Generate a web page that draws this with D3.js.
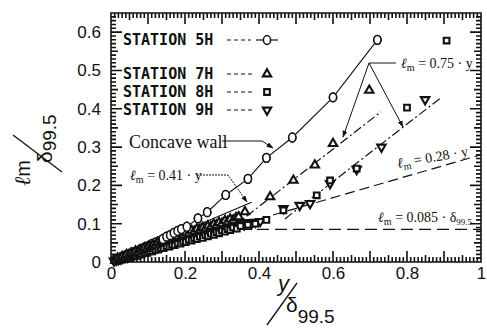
<!DOCTYPE html>
<html>
<head>
<meta charset="utf-8">
<script src="https://cdn.jsdelivr.net/npm/d3@7"></script>
<style>
  html, body { margin: 0; padding: 0; background: #fff; }
  svg { display: block; }
</style>
</head>
<body>
<svg id="chart" width="487" height="328"></svg>
<script>
// Mixing length lm/δ99.5 versus wall distance y/δ99.5
const station5H_x = [0.01,0.02,0.03,0.04,0.05,0.06,0.07,0.08,0.09,0.10,0.11,0.12,0.13,0.14,0.15,0.16,0.17,0.18,0.19,0.205,0.235,0.26,0.31,0.37,0.42,0.49,0.60,0.72];
const station5H_y = [0.006,0.010,0.014,0.018,0.022,0.026,0.029,0.034,0.038,0.042,0.047,0.051,0.055,0.060,0.066,0.070,0.076,0.081,0.086,0.092,0.114,0.130,0.175,0.217,0.272,0.325,0.430,0.580];

const station7H_x = [0.012,0.018,0.024,0.03,0.036,0.042,0.048,0.054,0.06,0.066,0.072,0.078,0.084,0.09,0.096,0.102,0.108,0.114,0.12,0.126,0.132,0.138,0.144,0.15,0.156,0.162,0.168,0.174,0.18,0.188,0.195,0.202,0.21,0.218,0.225,0.232,0.24,0.248,0.255,0.262,0.27,0.278,0.285,0.292,0.30,0.308,0.315,0.322,0.33,0.338,0.345,0.362,0.43,0.493,0.551,0.60,0.698];
const station7H_y = [0.004,0.010,0.009,0.014,0.013,0.019,0.017,0.023,0.022,0.028,0.026,0.031,0.031,0.037,0.035,0.041,0.040,0.045,0.044,0.050,0.049,0.054,0.053,0.060,0.057,0.063,0.062,0.067,0.066,0.073,0.071,0.077,0.075,0.082,0.080,0.086,0.084,0.090,0.088,0.094,0.092,0.099,0.096,0.103,0.101,0.108,0.105,0.112,0.109,0.116,0.118,0.131,0.170,0.213,0.253,0.309,0.448];

const station8H_x = [0.015,0.022,0.03,0.038,0.045,0.052,0.06,0.068,0.075,0.082,0.09,0.098,0.105,0.112,0.12,0.128,0.135,0.142,0.15,0.158,0.165,0.172,0.18,0.188,0.195,0.202,0.21,0.218,0.225,0.232,0.24,0.248,0.255,0.262,0.27,0.278,0.285,0.292,0.30,0.308,0.315,0.322,0.33,0.34,0.35,0.37,0.39,0.42,0.466,0.556,0.592,0.664,0.80,0.907];
const station8H_y = [0.003,0.004,0.007,0.008,0.011,0.012,0.015,0.016,0.019,0.020,0.024,0.024,0.028,0.028,0.032,0.032,0.036,0.036,0.041,0.040,0.045,0.044,0.049,0.048,0.053,0.052,0.058,0.056,0.062,0.060,0.066,0.063,0.070,0.067,0.074,0.071,0.078,0.075,0.082,0.079,0.086,0.083,0.090,0.087,0.094,0.097,0.100,0.110,0.135,0.174,0.213,0.244,0.403,0.578];

const station9H_x = [0.008,0.014,0.02,0.026,0.032,0.038,0.044,0.05,0.056,0.062,0.068,0.074,0.08,0.086,0.092,0.098,0.104,0.11,0.116,0.122,0.128,0.134,0.14,0.146,0.152,0.158,0.164,0.17,0.176,0.183,0.19,0.198,0.205,0.212,0.22,0.228,0.235,0.242,0.25,0.258,0.265,0.272,0.28,0.288,0.295,0.302,0.31,0.318,0.325,0.332,0.34,0.35,0.36,0.37,0.38,0.39,0.403,0.466,0.51,0.538,0.592,0.664,0.731,0.849];
const station9H_y = [0.003,0.005,0.006,0.008,0.010,0.012,0.013,0.016,0.017,0.019,0.021,0.024,0.025,0.027,0.028,0.031,0.032,0.035,0.036,0.039,0.040,0.042,0.043,0.046,0.047,0.050,0.051,0.054,0.055,0.058,0.059,0.062,0.063,0.066,0.067,0.070,0.071,0.074,0.075,0.078,0.078,0.082,0.082,0.086,0.085,0.090,0.088,0.094,0.091,0.097,0.094,0.100,0.097,0.103,0.100,0.104,0.106,0.140,0.148,0.153,0.205,0.242,0.300,0.424];

// Reference models: slope, origin offset and drawn extent in y/δ
const fit041 = { slope: 0.41, x0: 0, from: 0.17, to: 0.38 };
const fit075a = { slope: 0.75, x0: 0.207, from: 0.33, to: 0.73 };
const fit075b = { slope: 0.75, x0: 0.32, from: 0.47, to: 0.89 };
const fit028 = { slope: 0.28, x0: 0, from: 0.36, to: 1.0 };
const outerLevel = { value: 0.085, from: 0.2, to: 1.0 };

const xTickValues = [0, 0.2, 0.4, 0.6, 0.8, 1];
const xTickLabels = ["0", "0.2", "0.4", "0.6", "0.8", "1"];
const yTickValues = [0, 0.1, 0.2, 0.3, 0.4, 0.5, 0.6];
const yTickLabels = ["0", "0.1", "0.2", "0.3", "0.4", "0.5", "0.6"];

const legendNames = ["STATION 5H", "STATION 7H", "STATION 8H", "STATION 9H"];

const INK = "#111";
const SANS = "Liberation Sans, Arial, sans-serif";
const SERIF = "Liberation Serif, Times New Roman, serif";

const svg = d3.select("#chart");
const x = d3.scaleLinear().domain([0, 1]).range([111, 481]);
const y = d3.scaleLinear().domain([0, 0.65]).range([262, 13]);

const zip = (xs, ys) => xs.map((v, i) => [v, ys[i]]);
const d5 = zip(station5H_x, station5H_y);
const d7 = zip(station7H_x, station7H_y);
const d8 = zip(station8H_x, station8H_y);
const d9 = zip(station9H_x, station9H_y);

// Frame and its inward ticks as one path:
// minor every 0.01, mid every 0.05, major every 0.1
const tickLen = v => { const i = Math.round(v * 100); return i % 10 === 0 ? 11 : i % 5 === 0 ? 7 : 5; };
const X0 = x(0), X1 = x(1), Y0 = y(0), Y1 = y(0.65);
let frameD = `M${X0},${Y1}H${X1}V${Y0}H${X0}Z`;
d3.range(0, 101).forEach(i => {
  const v = i / 100, px = x(v), L = tickLen(v);
  frameD += `M${px},${Y0}V${Y0 - L}M${px},${Y1}V${Y1 + L}`;
});
d3.range(0, 66).forEach(i => {
  const v = i / 100, py = y(v), L = tickLen(v);
  frameD += `M${X0},${py}H${X0 + L}M${X1},${py}H${X1 - L}`;
});
svg.append("path").attr("d", frameD)
  .attr("fill", "none").attr("stroke", INK).attr("stroke-width", 1.6);

// Tick labels
const xAxis = svg.append("g").attr("transform", `translate(0,${Y0})`)
  .call(d3.axisBottom(x).tickValues(xTickValues).tickSize(0).tickPadding(5)
    .tickFormat((d, i) => xTickLabels[i]));
const yAxis = svg.append("g").attr("transform", `translate(${X0},0)`)
  .call(d3.axisLeft(y).tickValues(yTickValues).tickSize(0).tickPadding(10)
    .tickFormat((d, i) => yTickLabels[i]));
[xAxis, yAxis].forEach(a => {
  a.select(".domain").remove();
  a.attr("font-family", SANS).attr("font-size", 17);
  a.selectAll("text").attr("fill", INK);
});

// Reference lines
const seg = f => [[f.from, f.slope * (f.from - f.x0)], [f.to, f.slope * (f.to - f.x0)]];
const line = d3.line().x(d => x(d[0])).y(d => y(d[1]));
const lines = svg.append("g").attr("fill", "none").attr("stroke", INK);
lines.append("path").attr("d", line(seg(fit041))).attr("stroke-width", 1.2);
lines.append("path").attr("d", line(seg(fit075a))).attr("stroke-width", 1.2).attr("stroke-dasharray", "9,3,2,3");
lines.append("path").attr("d", line(seg(fit075b))).attr("stroke-width", 1.2).attr("stroke-dasharray", "9,3,2,3");
lines.append("path").attr("d", line(seg(fit028))).attr("stroke-width", 1.2).attr("stroke-dasharray", "10,5");
lines.append("path").attr("d", line([[outerLevel.from, outerLevel.value], [outerLevel.to, outerLevel.value]]))
  .attr("stroke-width", 1.2).attr("stroke-dasharray", "12,6");

// Station 5H profile line
lines.append("path").attr("d", line(d5)).attr("stroke-width", 1.1);

// Markers
const symTri = d3.symbol().type(d3.symbolTriangle).size(30);
const symSq = d3.symbol().type(d3.symbolSquare).size(32);
const markerStyle = g => g.attr("fill", "#fff").attr("stroke", INK).attr("stroke-width", 2.1);

function drawCircle(g, px, py) {
  g.append("ellipse").attr("cx", px).attr("cy", py).attr("rx", 3.6).attr("ry", 4.4)
    .attr("fill", "#fff").attr("stroke", INK).attr("stroke-width", 1.5);
}
function drawTri(g, px, py, down) {
  g.append("path").attr("d", symTri())
    .attr("transform", `translate(${px},${py})${down ? " rotate(180)" : ""}`);
}
function drawSq(g, px, py) {
  g.append("path").attr("d", symSq()).attr("transform", `translate(${px},${py})`);
}

// Near-wall band: circles underneath, the other stations over them
const gc = svg.append("g");
d5.forEach(d => drawCircle(gc, x(d[0]), y(d[1])));
const gm = svg.append("g").call(markerStyle);
d9.forEach(d => drawTri(gm, x(d[0]), y(d[1]), true));
d8.forEach(d => drawSq(gm, x(d[0]), y(d[1])));
d7.forEach(d => drawTri(gm, x(d[0]), y(d[1]), false));
// Outer circles stay on top where they stand clear of the band
const gc2 = svg.append("g");
d5.filter(d => d[0] >= 0.14).forEach(d => drawCircle(gc2, x(d[0]), y(d[1])));

// Legend
const legY = [40, 74, 92, 110];
const lg = svg.append("g");
legendNames.forEach((name, i) => {
  lg.append("text").attr("x", 123).attr("y", legY[i]).attr("dy", "0.36em")
    .attr("font-family", "DejaVu Sans Mono, monospace").attr("font-size", 15)
    .attr("font-weight", "bold").attr("fill", INK).text(name);
  lg.append("line").attr("x1", 227).attr("x2", i === 0 ? 251 : 253)
    .attr("y1", legY[i]).attr("y2", legY[i])
    .attr("stroke", INK).attr("stroke-width", 1.2).attr("stroke-dasharray", "4,3");
});
lg.append("line").attr("x1", 256).attr("x2", 278).attr("y1", legY[0]).attr("y2", legY[0])
  .attr("stroke", INK).attr("stroke-width", 1.2);
drawCircle(lg, 267, legY[0]);
const lgm = lg.append("g").call(markerStyle);
drawTri(lgm, 267, legY[1], false);
drawSq(lgm, 267, legY[2]);
drawTri(lgm, 267, legY[3], true);

// Annotation helpers
const defs = svg.append("defs");
defs.append("marker").attr("id", "arrow").attr("viewBox", "0 0 10 10")
  .attr("refX", 9).attr("refY", 5).attr("markerWidth", 7).attr("markerHeight", 7)
  .attr("orient", "auto")
  .append("path").attr("d", "M0,1.5 L10,5 L0,8.5 Z").attr("fill", INK);

function lmLabel(g, tx, ty, rest, sub) {
  const t = g.append("text").attr("font-family", SERIF).attr("font-size", 14).attr("fill", INK)
    .attr("x", tx).attr("y", ty);
  t.append("tspan").attr("font-style", "italic").text("ℓ");
  t.append("tspan").attr("font-size", 10).attr("dy", 3).text("m");
  t.append("tspan").attr("dy", -3).text(rest);
  if (sub) t.append("tspan").attr("font-size", 9).attr("dy", 3).text(sub);
  return t;
}

const ann = svg.append("g");
// Concave wall
ann.append("text").attr("x", 129).attr("y", 148).attr("font-family", SERIF)
  .attr("font-size", 18).attr("fill", INK).text("Concave wall");
ann.append("path").attr("d", "M222,141 L262,141 L273,148")
  .attr("fill", "none").attr("stroke", INK).attr("stroke-width", 1).attr("marker-end", "url(#arrow)");

// lm = 0.41 y
lmLabel(ann, 130, 180, " = 0.41 · y");
ann.append("path").attr("d", "M197,175 L228,175 L247,202")
  .attr("fill", "none").attr("stroke", INK).attr("stroke-width", 1)
  .attr("stroke-dasharray", "2,1").attr("marker-end", "url(#arrow)");

// lm = 0.75 y
lmLabel(ann, 401, 68, " = 0.75 · y");
ann.append("line").attr("x1", 369).attr("x2", 396).attr("y1", 63).attr("y2", 63)
  .attr("stroke", INK).attr("stroke-width", 1);
ann.append("line").attr("x1", 369).attr("y1", 63).attr("x2", 343).attr("y2", 137)
  .attr("stroke", INK).attr("stroke-width", 1).attr("marker-end", "url(#arrow)");
ann.append("line").attr("x1", 369).attr("y1", 63).attr("x2", 403).attr("y2", 127)
  .attr("stroke", INK).attr("stroke-width", 1).attr("marker-end", "url(#arrow)");

// lm = 0.28 y, set along its line
lmLabel(ann, 0, 0, " = 0.28 · y").attr("transform", "translate(398,168) rotate(-10)");

// lm = 0.085 δ99.5
lmLabel(ann, 378, 222, " = 0.085 · δ", "99.5");

// Axis titles as slashed fractions
const title = svg.append("g").attr("font-family", SANS).attr("fill", INK);
title.append("text").attr("x", 278).attr("y", 291).attr("font-size", 22).attr("font-style", "italic").text("y");
title.append("line").attr("x1", 267).attr("y1", 325).attr("x2", 297).attr("y2", 283)
  .attr("stroke", INK).attr("stroke-width", 1.3);
const xt = title.append("text").attr("x", 286).attr("y", 312).attr("font-size", 21);
xt.append("tspan").text("δ");
xt.append("tspan").attr("dy", 11).attr("font-size", 19).text("99.5");

const yl = title.append("text").attr("transform", "translate(30,186) rotate(-90)").attr("font-size", 22);
yl.append("tspan").attr("font-style", "italic").attr("font-family", SERIF).text("ℓ");
yl.append("tspan").attr("font-size", 20).text("m");
title.append("line").attr("x1", 13).attr("y1", 135).attr("x2", 62).attr("y2", 172)
  .attr("stroke", INK).attr("stroke-width", 1.3);
const yd = title.append("text").attr("transform", "translate(52,163) rotate(-90)").attr("font-size", 21);
yd.append("tspan").text("δ");
yd.append("tspan").attr("dy", 4).attr("font-size", 19).text("99.5");
</script>
</body>
</html>
